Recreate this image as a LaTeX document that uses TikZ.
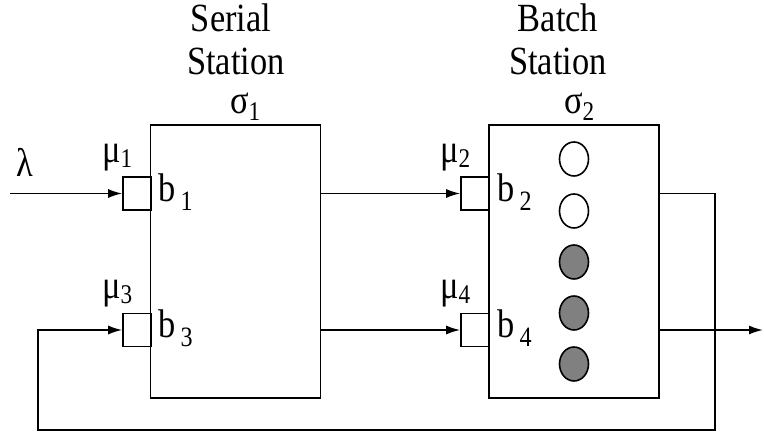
\documentclass[tikz,border=0pt]{standalone}
\usepackage{fontspec}
\setmainfont{Liberation Serif}
\usepackage{graphicx}
\usepackage{tikz}
\usetikzlibrary{arrows.meta, shapes.geometric, positioning}
\newcommand\nar[1]{\scalebox{0.86}[1]{#1}}
\newcommand\bsub[2]{\nar{#1\hspace{6pt}\raisebox{-9pt}{\fontsize{28}{28}\selectfont #2}}}
\newcommand\gsub[3]{\nar{#1\raisebox{-#3}{\fontsize{27}{27}\selectfont #2}}}
\tikzset{
  station/.style={draw, line width=1.6pt, minimum width=170pt, minimum height=273pt, inner sep=0pt},
  buffer/.style={draw, fill=white, line width=1.6pt, minimum width=28pt, minimum height=33pt, inner sep=0pt},
  job/.style={ellipse, draw, line width=1.6pt, minimum width=29pt, minimum height=34pt, inner sep=0pt},
  flow/.style={line width=1.6pt, -{Latex[length=14pt,width=9pt]}},
  lbl/.style={inner sep=0pt, font=\fontsize{40}{44}\selectfont}
}

\begin{document}
\begin{tikzpicture}[x=1pt,y=-1pt]
\useasboundingbox (0,0) rectangle (764,435);
% stations
\node[station] (st1) at (235.5,261.5) {};
\node[station] (st2) at (574,261.5) {};
% buffers
\node[buffer] (b1) at (137,193.5) {};
\node[buffer] (b3) at (137,330) {};
\node[buffer] (b2) at (475,193.5) {};
\node[buffer] (b4) at (475,330) {};
% jobs in the batch
\foreach \y/\c in {159/white, 211/white, 262/gray, 313/gray, 364/gray}
  \node[job, fill=\c] (job\y) at (574,\y) {};

% titles
\node[lbl, anchor=base] (ser) at (231,32) {\nar{Serial}};
\node[lbl, anchor=base] (sst) at (236,75) {\nar{Station}};
\node[lbl, anchor=base west] (sig1) at (230,114) {\gsub{σ}{1}{7pt}};
\node[lbl, anchor=base] (bat) at (558,32) {\nar{Batch}};
\node[lbl, anchor=base] (bst) at (558,75) {\nar{Station}};
\node[lbl, anchor=base west] (sig2) at (564,114) {\gsub{σ}{2}{7pt}};

% rates and buffer names
\node[lbl, anchor=base west] (lam) at (16,177) {\nar{λ}};
\node[lbl, anchor=base west] (mu1) at (102,163) {\gsub{μ}{1}{5pt}};
\node[lbl, anchor=base west] (mu3) at (102,299) {\gsub{μ}{3}{5pt}};
\node[lbl, anchor=base west] (mu2) at (440,163) {\gsub{μ}{2}{5pt}};
\node[lbl, anchor=base west] (mu4) at (440,299) {\gsub{μ}{4}{5pt}};
\node[lbl, anchor=base west] (nb1) at (158,202) {\bsub{b}{1}};
\node[lbl, anchor=base west] (nb3) at (158,338) {\bsub{b}{3}};
\node[lbl, anchor=base west] (nb2) at (497,202) {\bsub{b}{2}};
\node[lbl, anchor=base west] (nb4) at (497,338) {\bsub{b}{4}};

% flows
\coordinate (src) at (10,193.5);
\coordinate (sink) at (763,330);
\coordinate (loopR) at (715,430);
\coordinate (loopL) at (38,430);
\draw[flow] (src) -- (b1.west);
\draw[flow] (st1.east |- b2.west) -- (b2.west);
\draw[flow] (st1.east |- b4.west) -- (b4.west);
\draw[flow] (st2.east |- b4.west) -- (sink);
\draw[flow] (st2.east |- b2.west) -| (loopR) -- (loopL) |- (b3.west);
\end{tikzpicture}
\end{document}
